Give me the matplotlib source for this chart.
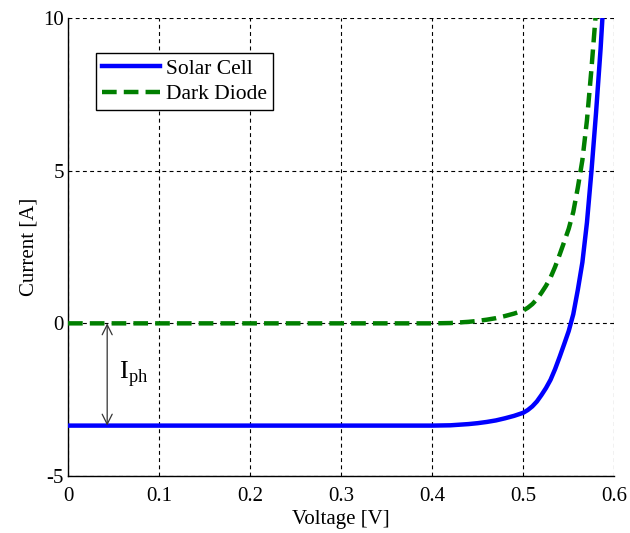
import matplotlib
matplotlib.use("Agg")
import matplotlib.pyplot as plt

# values
voltage = [0.0, 0.40, 0.42, 0.43, 0.44, 0.45, 0.46, 0.47, 0.48, 0.49, 0.50, 0.505,
           0.51, 0.515, 0.52, 0.525, 0.53, 0.535, 0.54, 0.545, 0.55, 0.555, 0.56,
           0.565, 0.57, 0.575, 0.58, 0.585, 0.59]
solar_cell = [-3.35, -3.35, -3.34, -3.32, -3.30, -3.27, -3.23, -3.18, -3.11, -3.03, -2.93, -2.84,
              -2.72, -2.56, -2.35, -2.12, -1.85, -1.50, -1.10, -0.68, -0.25, 0.30, 1.10,
              2.00, 3.30, 5.00, 6.90, 9.00, 11.5]
dark_diode = [0.0, 0.0, 0.01, 0.03, 0.05, 0.08, 0.12, 0.17, 0.24, 0.32, 0.42, 0.51,
              0.63, 0.79, 1.00, 1.23, 1.50, 1.85, 2.25, 2.67, 3.10, 3.65, 4.45,
              5.35, 6.65, 8.35, 10.25, 12.3, 14.8]
x_ticks = [0, 0.1, 0.2, 0.3, 0.4, 0.5, 0.6]
x_tick_labels = ["0", "0.1", "0.2", "0.3", "0.4", "0.5", "0.6"]
y_ticks = [-5, 0, 5, 10]
iph_x = 0.043
iph_value = -3.35

plt.rcParams['font.family'] = ['Liberation Serif', 'DejaVu Serif']
plt.rcParams['axes.unicode_minus'] = False

fig = plt.figure(figsize=(6.3, 5.33), dpi=100)
ax = fig.add_axes([0.108, 0.107, 0.867, 0.859])

ax.plot(voltage, solar_cell, color='#0000ff', lw=3.2, label='Solar Cell', zorder=3)
ax.plot(voltage, dark_diode, color='#007f00', lw=3.2, ls=(0, (3.3, 1.6)),
        label='Dark Diode', zorder=4)

ax.set_xlim(0, 0.6)
ax.set_ylim(-5, 10)
ax.set_xticks(x_ticks)
ax.set_xticklabels(x_tick_labels)
ax.set_yticks(y_ticks)
ax.grid(True, color='black', ls=(0, (3.5, 3)), lw=0.8)
for side in ['top', 'right']:
    ax.spines[side].set_visible(False)
for side in ['left', 'bottom']:
    ax.spines[side].set_linewidth(1.0)
ax.tick_params(axis='y', direction='in', length=0, labelsize=15, pad=3)
ax.tick_params(axis='x', direction='in', length=0, labelsize=15, pad=8)

ax.set_xlabel('Voltage [V]', fontsize=15, labelpad=3)
ax.set_ylabel('Current [A]', fontsize=15, labelpad=3)

# photocurrent arrow
ax.annotate('', xy=(iph_x, iph_value), xytext=(iph_x, 0),
            arrowprops=dict(arrowstyle='<->', color='#333333', lw=0.9,
                            mutation_scale=18, shrinkA=0, shrinkB=0))
ax.text(iph_x + 0.013, iph_value / 2, r'I$_{\mathregular{ph}}$', fontsize=19,
        va='center', ha='left')

leg = ax.legend(loc='upper left', bbox_to_anchor=(0.052, 0.923), fontsize=15.5,
                fancybox=False, framealpha=1, edgecolor='black',
                handlelength=2.7, handletextpad=0.3, borderpad=0.25,
                labelspacing=0.25, borderaxespad=0)
leg.get_frame().set_linewidth(1.0)

fig.savefig('out.png', dpi=100)
